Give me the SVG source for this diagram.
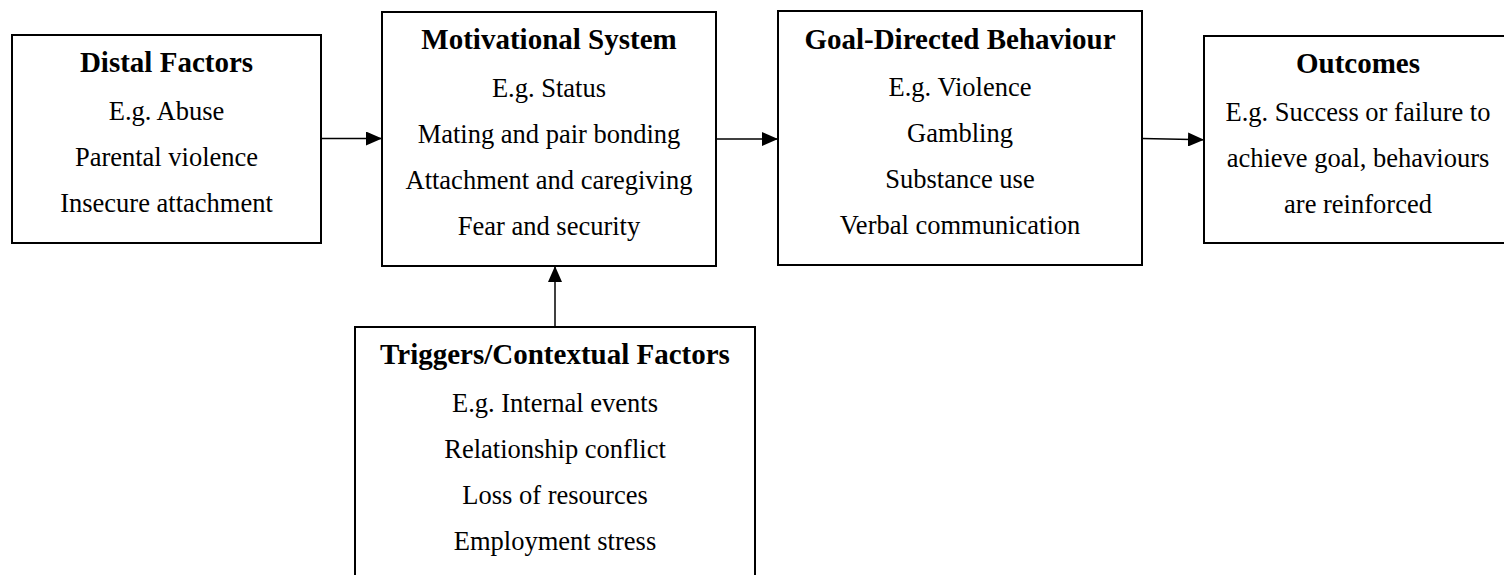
<svg xmlns="http://www.w3.org/2000/svg" width="1504" height="575" viewBox="0 0 1504 575">
  <style>
    .box { fill: #ffffff; stroke: #000000; stroke-width: 2; }
    .title { font-family: "Liberation Serif", "Times New Roman", serif; font-size: 29px; font-weight: bold; fill: #000000; text-anchor: middle; }
    .item { font-family: "Liberation Serif", "Times New Roman", serif; font-size: 26.5px; fill: #000000; text-anchor: middle; }
    .link { fill: none; stroke: #000000; stroke-width: 1.5; }
  </style>
  <defs>
    <marker id="arrowhead" viewBox="0 0 16 14" refX="16" refY="7" markerWidth="16" markerHeight="14" markerUnits="userSpaceOnUse" orient="auto">
      <path d="M0,0 L16,7 L0,14 Z" fill="#000000"/>
    </marker>
  </defs>

  <rect width="1504" height="575" fill="#ffffff"/>

  <!-- connectors -->
  <g id="connectors">
    <line class="link" x1="321" y1="138.5" x2="382" y2="138.5" marker-end="url(#arrowhead)"/>
    <line class="link" x1="716" y1="139" x2="778" y2="139" marker-end="url(#arrowhead)"/>
    <line class="link" x1="1142" y1="138.5" x2="1204" y2="139.8" marker-end="url(#arrowhead)"/>
    <line class="link" x1="555" y1="327" x2="555" y2="266" marker-end="url(#arrowhead)"/>
  </g>

  <!-- Distal Factors -->
  <g id="distal-factors">
    <rect class="box" x="12" y="35" width="309" height="208"/>
    <text class="title" x="166.5" y="72">Distal Factors</text>
    <text class="item" x="166.5" y="120">E.g. Abuse</text>
    <text class="item" x="166.5" y="166">Parental violence</text>
    <text class="item" x="166.5" y="212">Insecure attachment</text>
  </g>

  <!-- Motivational System -->
  <g id="motivational-system">
    <rect class="box" x="382" y="12" width="334" height="254"/>
    <text class="title" x="549" y="48.5">Motivational System</text>
    <text class="item" x="549" y="96.5">E.g. Status</text>
    <text class="item" x="549" y="142.5">Mating and pair bonding</text>
    <text class="item" x="549" y="188.5">Attachment and caregiving</text>
    <text class="item" x="549" y="234.5">Fear and security</text>
  </g>

  <!-- Goal-Directed Behaviour -->
  <g id="goal-directed-behaviour">
    <rect class="box" x="778" y="11" width="364" height="254"/>
    <text class="title" x="960" y="48.5">Goal-Directed Behaviour</text>
    <text class="item" x="960" y="95.5">E.g. Violence</text>
    <text class="item" x="960" y="141.5">Gambling</text>
    <text class="item" x="960" y="187.5">Substance use</text>
    <text class="item" x="960" y="233.5">Verbal communication</text>
  </g>

  <!-- Outcomes -->
  <g id="outcomes">
    <rect class="box" x="1204" y="36" width="308" height="207"/>
    <text class="title" x="1358" y="72.5">Outcomes</text>
    <text class="item" x="1358" y="120.5">E.g. Success or failure to</text>
    <text class="item" x="1358" y="166.5">achieve goal, behaviours</text>
    <text class="item" x="1358" y="213">are reinforced</text>
  </g>

  <!-- Triggers/Contextual Factors -->
  <g id="triggers-contextual-factors">
    <rect class="box" x="355" y="327" width="400" height="260"/>
    <text class="title" x="555" y="363.5">Triggers/Contextual Factors</text>
    <text class="item" x="555" y="411.5">E.g. Internal events</text>
    <text class="item" x="555" y="458">Relationship conflict</text>
    <text class="item" x="555" y="504">Loss of resources</text>
    <text class="item" x="555" y="550">Employment stress</text>
  </g>
</svg>
